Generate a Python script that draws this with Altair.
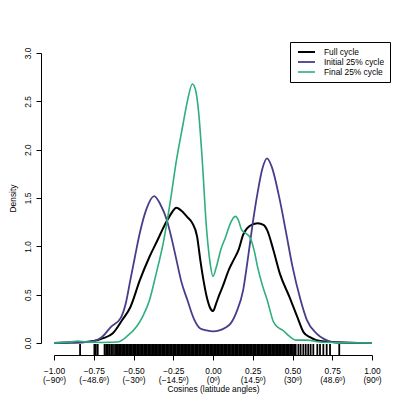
import altair as alt
import pandas as pd

# ---- data ----
series_names = ["Full cycle", "Initial 25% cycle", "Final 25% cycle"]
series_colors = ["#000000", "#483D8B", "#2EAF7C"]

full_x = [-1.0, -0.9, -0.8, -0.75, -0.69, -0.63, -0.57, -0.52, -0.46, -0.40, -0.35, -0.31, -0.27, -0.23,
          -0.20, -0.16, -0.13, -0.10, -0.08, -0.06, -0.04, -0.02, 0.0, 0.02, 0.04, 0.06, 0.10, 0.13, 0.16,
          0.19, 0.23, 0.28, 0.32, 0.34, 0.38, 0.42, 0.48, 0.53, 0.57, 0.61, 0.65, 0.75, 0.85, 1.0]
full_y = [0.0, 0.005, 0.01, 0.02, 0.05, 0.10, 0.24, 0.37, 0.65, 0.89, 1.06, 1.20, 1.32, 1.40,
          1.37, 1.30, 1.24, 1.10, 0.86, 0.65, 0.48, 0.37, 0.33, 0.41, 0.50, 0.58, 0.76, 0.86, 0.96,
          1.12, 1.21, 1.24, 1.22, 1.17, 0.96, 0.72, 0.48, 0.27, 0.11, 0.06, 0.03, 0.01, 0.003, 0.0]

init_x = [-1.0, -0.9, -0.8, -0.75, -0.70, -0.64, -0.58, -0.55, -0.52, -0.49, -0.46, -0.42, -0.37, -0.33,
          -0.29, -0.26, -0.23, -0.20, -0.16, -0.12, -0.08, -0.04, 0.0, 0.04, 0.08, 0.11, 0.15, 0.19, 0.22,
          0.25, 0.28, 0.31, 0.34, 0.37, 0.42, 0.46, 0.50, 0.55, 0.59, 0.65, 0.70, 0.75, 0.85, 1.0]
init_y = [0.0, 0.005, 0.01, 0.02, 0.06, 0.17, 0.26, 0.40, 0.65, 0.90, 1.14, 1.38, 1.52, 1.43,
          1.27, 1.08, 0.86, 0.64, 0.44, 0.25, 0.15, 0.13, 0.12, 0.13, 0.16, 0.20, 0.33, 0.55, 0.88,
          1.24, 1.55, 1.80, 1.91, 1.82, 1.48, 1.14, 0.79, 0.45, 0.24, 0.10, 0.04, 0.01, 0.003, 0.0]

final_x = [-1.0, -0.9, -0.85, -0.8, -0.7, -0.6, -0.54, -0.48, -0.44, -0.40, -0.36, -0.31, -0.27, -0.23,
           -0.19, -0.16, -0.13, -0.11, -0.09, -0.07, -0.04, -0.02, 0.0, 0.02, 0.05, 0.08, 0.11, 0.14,
           0.16, 0.18, 0.21, 0.23, 0.26, 0.28, 0.31, 0.34, 0.38, 0.41, 0.44, 0.48, 0.52, 0.59, 0.67, 0.8, 1.0]
final_y = [0.0, 0.01, 0.02, 0.01, 0.005, 0.01, 0.07, 0.17, 0.28, 0.44, 0.70, 1.06, 1.45, 1.89,
           2.25, 2.51, 2.68, 2.62, 2.38, 1.95, 1.17, 0.85, 0.69, 0.78, 0.97, 1.10, 1.24, 1.31,
           1.27, 1.17, 1.13, 1.10, 0.95, 0.79, 0.60, 0.45, 0.22, 0.16, 0.13, 0.07, 0.03, 0.03, 0.01, 0.003, 0.0]

rug_values = [-0.836, -0.746, -0.737, -0.725, -0.682, -0.672, -0.661, -0.651, -0.640, -0.629,
              -0.616, -0.607, -0.598, -0.590, -0.581, -0.572, -0.563, -0.555, -0.546, -0.537, -0.528,
              -0.520, -0.511, -0.502, -0.494, -0.485, -0.476, -0.468, -0.459, -0.450, -0.442, -0.433,
              -0.424, -0.416, -0.407, -0.398, -0.390, -0.381, -0.372, -0.364, -0.355, -0.346, -0.338,
              -0.329, -0.320, -0.312, -0.303, -0.294, -0.286, -0.277, -0.268, -0.260, -0.251, -0.242,
              -0.234, -0.225, -0.216, -0.208, -0.199, -0.190, -0.182, -0.173, -0.164, -0.156, -0.147,
              -0.138, -0.130, -0.121, -0.112, -0.104, -0.095, -0.086, -0.078, -0.069, -0.060, -0.052,
              -0.043, -0.034, -0.026, -0.017, -0.008, 0.000, 0.009, 0.018, 0.026, 0.035, 0.044, 0.052,
              0.061, 0.070, 0.078, 0.087, 0.096, 0.104, 0.113, 0.122, 0.130, 0.139, 0.148, 0.156, 0.165,
              0.174, 0.182, 0.191, 0.200, 0.208, 0.217, 0.226, 0.234, 0.243, 0.252, 0.260, 0.269, 0.278,
              0.286, 0.295, 0.304, 0.312, 0.321, 0.330, 0.338, 0.347, 0.356, 0.364, 0.373, 0.382, 0.390,
              0.399, 0.408, 0.416, 0.425, 0.434, 0.442, 0.451, 0.460, 0.468, 0.477, 0.486, 0.494, 0.503,
              0.512, 0.520,
              0.537, 0.551, 0.568, 0.583, 0.599, 0.614, 0.631, 0.656, 0.673, 0.694, 0.715, 0.736, 0.794]

x_ticks = [-1.0, -0.75, -0.5, -0.25, 0.0, 0.25, 0.5, 0.75, 1.0]
cos_labels = ["\u22121.00", "\u22120.75", "\u22120.50", "\u22120.25", "0.00", "0.25", "0.50", "0.75", "1.00"]
angle_labels = ["(\u221290\u00ba)", "(\u221248.6\u00ba)", "(\u221230\u00ba)", "(\u221214.5\u00ba)", "(0\u00ba)",
                "(14.5\u00ba)", "(30\u00ba)", "(48.6\u00ba)", "(90\u00ba)"]
y_ticks = [0.0, 0.5, 1.0, 1.5, 2.0, 2.5, 3.0]

# ---- tables ----
rows = []
for name, xs, ys in zip(series_names, [full_x, init_x, final_x], [full_y, init_y, final_y]):
    for i, (a, b) in enumerate(zip(xs, ys)):
        rows.append({"series": name, "x": a, "density": b, "order": i})
df = pd.DataFrame(rows)
rug_df = pd.DataFrame({"x": rug_values})

label_expr = "''"
for v, c, a in reversed(list(zip(x_ticks, cos_labels, angle_labels))):
    label_expr = f"abs(datum.value - ({v})) < 1e-6 ? ['{c}', '{a}'] : ({label_expr})"

FONT = "Liberation Sans"
FS = 8.4

x_axis = alt.Axis(values=x_ticks, labelExpr=label_expr, title="Cosines (latitude angles)",
                  offset=12, grid=False, tickSize=5, labelPadding=6, labelLineHeight=9.5,
                  labelBaseline="top", titlePadding=1, labelFlush=False, labelOverlap=False)
x_scale = alt.Scale(domain=[-1, 1], nice=False, zero=False)

lines = alt.Chart(df).mark_line(interpolate="monotone").encode(
    x=alt.X("x:Q", scale=x_scale, axis=x_axis),
    y=alt.Y("density:Q", scale=alt.Scale(domain=[0, 3], nice=False, zero=False),
            axis=alt.Axis(values=y_ticks, format=".1f", labelAngle=-90, labelAlign="center",
                          labelBaseline="bottom", offset=13, tickSize=5, labelPadding=4,
                          title="Density", titlePadding=6, grid=False)),
    color=alt.Color("series:N", scale=alt.Scale(domain=series_names, range=series_colors),
                    legend=alt.Legend(title=None, orient="none", legendX=236, legendY=-11,
                                      strokeColor="black", fillColor="white", padding=5,
                                      symbolType="M-2.125,0H2.125", symbolSize=64, symbolStrokeWidth=1.8,
                                      symbolOffset=6.5,
                                      labelFont=FONT, labelFontSize=FS, labelColor="black",
                                      labelOffset=12.5, rowPadding=0)),
    strokeWidth=alt.StrokeWidth("series:N", scale=alt.Scale(domain=series_names, range=[2.0, 1.6, 1.6]),
                                legend=None),
    order="order:Q",
)

rug = alt.Chart(rug_df).mark_rule(color="black", strokeWidth=1.8).encode(
    x=alt.X("x:Q", scale=x_scale, axis=x_axis),
    y=alt.value(291),
    y2=alt.value(302),
)

chart = alt.layer(rug, lines).properties(
    width=318, height=290,
    autosize=alt.AutoSizeParams(type="none"),
    padding={"left": 46, "top": 45, "right": 27, "bottom": 54},
    background="white",
).configure_view(stroke=None).configure_axis(
    labelFont=FONT, titleFont=FONT, labelFontSize=FS, titleFontSize=FS,
    titleFontWeight="normal", labelColor="black", titleColor="black",
    domainColor="black", tickColor="black", domainWidth=1, tickWidth=1,
)

chart.save("out.html", embed_options={"renderer": "svg", "actions": False})
